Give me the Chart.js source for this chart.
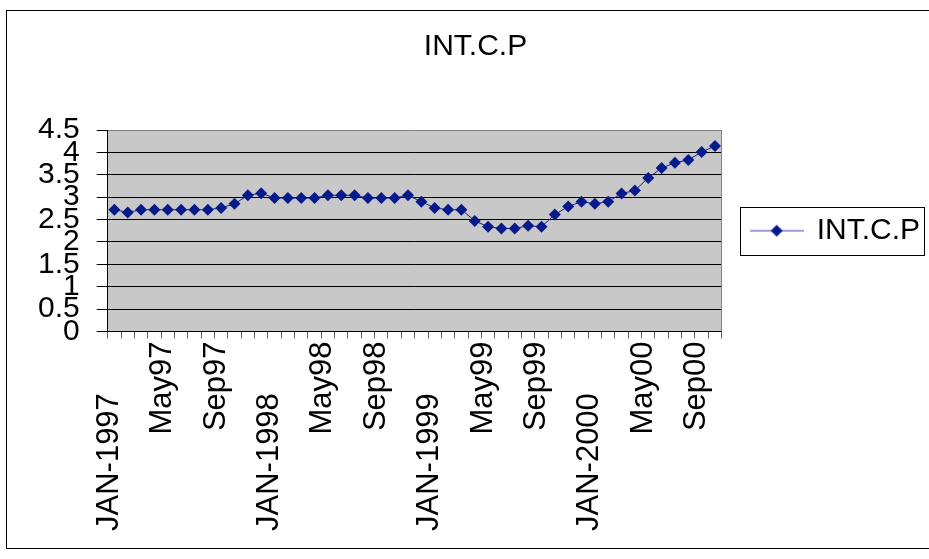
<!DOCTYPE html>
<html>
<head>
<meta charset="utf-8">
<title>INT.C.P</title>
<script src="https://cdn.jsdelivr.net/npm/chart.js@4/dist/chart.umd.min.js"></script>
<style>
  html, body { margin: 0; padding: 0; background: #fff; overflow: hidden; }
  #wrap { width: 929px; height: 559px; position: relative; overflow: hidden; }
</style>
</head>
<body>
<div id="wrap"><canvas id="c" width="931" height="559"></canvas></div>
<script>
// Monthly series, January 1997 – October 2000
const seriesName = 'INT.C.P';

const months = [
  'JAN-1997', 'Feb97', 'Mar97', 'Apr97', 'May97', 'Jun97', 'Jul97', 'Aug97', 'Sep97', 'Oct97', 'Nov97', 'Dec97',
  'JAN-1998', 'Feb98', 'Mar98', 'Apr98', 'May98', 'Jun98', 'Jul98', 'Aug98', 'Sep98', 'Oct98', 'Nov98', 'Dec98',
  'JAN-1999', 'Feb99', 'Mar99', 'Apr99', 'May99', 'Jun99', 'Jul99', 'Aug99', 'Sep99', 'Oct99', 'Nov99', 'Dec99',
  'JAN-2000', 'Feb00', 'Mar00', 'Apr00', 'May00', 'Jun00', 'Jul00', 'Aug00', 'Sep00', 'Oct00'
];

const values = [
  2.72, 2.66, 2.72, 2.72, 2.72, 2.72, 2.72, 2.72, 2.76, 2.85, 3.04, 3.09,
  2.98, 2.98, 2.98, 2.98, 3.04, 3.04, 3.04, 2.98, 2.98, 2.98, 3.04, 2.90,
  2.76, 2.72, 2.72, 2.47, 2.34, 2.30, 2.30, 2.36, 2.34, 2.61, 2.79, 2.90,
  2.85, 2.90, 3.08, 3.15, 3.43, 3.65, 3.77, 3.83, 4.01, 4.14
];

const yMin = 0;
const yMax = 4.5;
const yStep = 0.5;
const labelEvery = 4;

const FONT = '"Liberation Sans", Arial, sans-serif';
const NAVY = '#061a8c';

// legend swatch: a short line with a diamond on it
function legendSwatch() {
  const cv = document.createElement('canvas');
  cv.width = 54; cv.height = 14;
  const g = cv.getContext('2d');
  g.strokeStyle = '#3a3aa8';
  g.lineWidth = 1;
  g.beginPath(); g.moveTo(0, 7); g.lineTo(54, 7); g.stroke();
  g.fillStyle = NAVY;
  g.beginPath();
  g.moveTo(27, 1); g.lineTo(33, 7); g.lineTo(27, 13); g.lineTo(21, 7); g.closePath();
  g.fill();
  return cv;
}
const swatch = legendSwatch();

// page frame, plot background and plot border
const decor = {
  id: 'decor',
  beforeDraw(chart) {
    const { ctx, chartArea: a } = chart;
    ctx.save();
    ctx.fillStyle = '#fff';
    ctx.fillRect(0, 0, chart.width, chart.height);
    ctx.strokeStyle = '#000';
    ctx.lineWidth = 1;
    ctx.strokeRect(6.5, 10.5, chart.width + 20, 538);
    ctx.fillStyle = '#c8c8c8';
    ctx.fillRect(a.left, a.top, a.right - a.left, a.bottom - a.top);
    ctx.restore();
  },
  beforeDatasetsDraw(chart) {
    const { ctx, chartArea: a } = chart;
    ctx.save();
    ctx.strokeStyle = '#808080';
    ctx.lineWidth = 1;
    ctx.beginPath();
    ctx.moveTo(Math.round(a.right) - 0.5, a.top);
    ctx.lineTo(Math.round(a.right) - 0.5, a.bottom);
    ctx.stroke();
    ctx.restore();
  },
  afterDraw(chart) {
    const lg = chart.legend;
    if (!lg || !lg.legendHitBoxes || !lg.legendHitBoxes.length) return;
    const hb = lg.legendHitBoxes[0];
    const { ctx } = chart;
    ctx.save();
    ctx.strokeStyle = '#000';
    ctx.lineWidth = 1;
    const x0 = Math.round(hb.left - 12) + 0.5;
    const y0 = Math.round(hb.top - 9) + 0.5;
    const x1 = Math.round(hb.left + hb.width + 4) + 0.5;
    const y1 = Math.round(hb.top + hb.height + 9) + 0.5;
    ctx.strokeRect(x0, y0, x1 - x0, y1 - y0);
    ctx.restore();
  }
};

new Chart(document.getElementById('c'), {
  type: 'line',
  data: {
    labels: months,
    datasets: [{
      label: seriesName,
      data: values,
      borderColor: '#1a1a90',
      borderWidth: 1,
      pointStyle: 'rectRot',
      pointRadius: 6,
      pointBackgroundColor: NAVY,
      pointBorderColor: NAVY,
      pointBorderWidth: 0,
      tension: 0,
      fill: false
    }]
  },
  options: {
    responsive: false,
    animation: false,
    devicePixelRatio: 1,
    layout: { padding: { left: 21, right: 1, top: 10, bottom: 25 } },
    plugins: {
      title: {
        display: true,
        text: seriesName,
        color: '#000',
        font: { family: FONT, size: 30, weight: 'normal' },
        padding: { top: 19, bottom: 65 }
      },
      legend: {
        display: true,
        position: 'right',
        fullSize: false,
        labels: {
          color: '#000',
          font: { family: FONT, size: 30 },
          usePointStyle: true,
          pointStyleWidth: 50,
          padding: 30,
          generateLabels() {
            return [{
              text: seriesName,
              pointStyle: swatch,
              fillStyle: NAVY,
              strokeStyle: NAVY,
              lineWidth: 0,
              hidden: false,
              datasetIndex: 0
            }];
          }
        }
      },
      tooltip: { enabled: false }
    },
    scales: {
      x: {
        type: 'category',
        offset: true,
        grid: {
          offset: true,
          drawOnChartArea: false,
          drawTicks: true,
          tickLength: 7,
          tickColor: '#606060'
        },
        border: { display: true, color: '#000', width: 1 },
        ticks: {
          autoSkip: false,
          minRotation: 90,
          maxRotation: 90,
          padding: 3,
          labelOffset: -5,
          color: '#000',
          font: { family: FONT, size: 31 },
          callback(value, index) {
            if (index % labelEvery !== 0) return '';
            const lbl = this.getLabelForValue(value);
            return lbl.startsWith('JAN') ? lbl + '      ' : lbl;
          }
        }
      },
      y: {
        min: yMin,
        max: yMax,
        grid: {
          color: (c) => (c.tick && c.tick.value === yMax ? '#808080' : '#000'),
          lineWidth: 1,
          drawTicks: true,
          tickLength: 11,
          tickColor: '#000'
        },
        border: { display: true, color: '#000', width: 1 },
        ticks: {
          stepSize: yStep,
          autoSkip: false,
          padding: 17,
          color: '#000',
          font: { family: FONT, size: 30 },
          callback: (v) => String(v)
        }
      }
    }
  },
  plugins: [decor]
});
</script>
</body>
</html>
